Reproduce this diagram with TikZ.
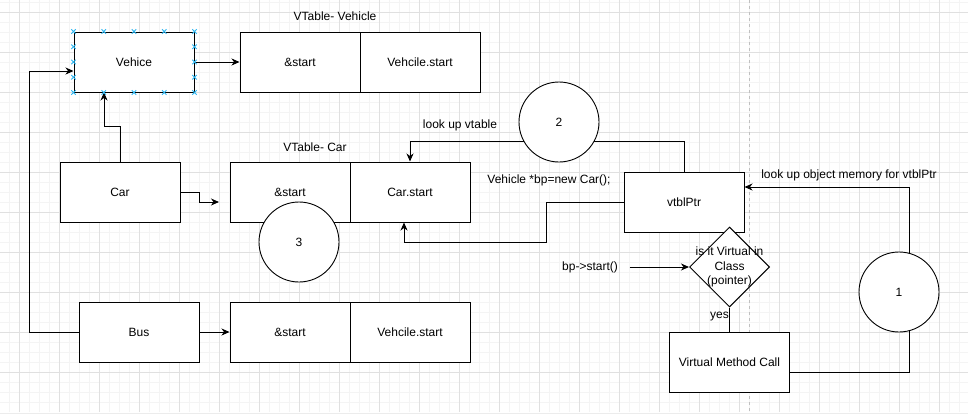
\documentclass[tikz,border=0pt]{standalone}
\usepackage{fontspec}
\setmainfont{Liberation Sans}
\usetikzlibrary{shapes.geometric,arrows.meta,calc}
\pgfdeclarelayer{gridlayer}
\pgfdeclarelayer{lines}
\pgfsetlayers{gridlayer,lines,main}
\definecolor{minorgrid}{RGB}{244,244,244}
\definecolor{majorgrid}{RGB}{224,224,224}
\definecolor{handleblue}{RGB}{41,182,242}
\definecolor{pageline}{RGB}{192,192,192}
\tikzset{
  txt/.style={font=\fontsize{12}{14.5}\selectfont, inner sep=0pt, align=center},
  boxnode/.style={draw, line width=1pt, fill=white, minimum width=120pt, minimum height=60pt, inner sep=0pt, txt},
  circnode/.style={draw, circle, line width=0.9pt, fill=white, minimum size=80pt, inner sep=0pt, txt},
  decision/.style={draw, diamond, line width=1pt, fill=white, minimum width=80pt, minimum height=80pt, inner sep=0pt},
  conn/.style={line width=1pt, line join=miter},
  arr/.style={conn, -{Stealth[length=8pt,width=7pt,inset=2.5pt]}},
  handle/.style={draw=handleblue, line width=0.9pt}
}
\begin{document}
\begin{tikzpicture}[x=1pt,y=-1pt]
\useasboundingbox (0,0) rectangle (968,416);
% grid background
\begin{pgfonlayer}{gridlayer}
\fill[white] (0,0) rectangle (968,416);
\foreach \gx in {9.5,19.5,...,959.5} \draw[minorgrid, line width=0.8pt] (\gx,0) -- (\gx,412);
\foreach \gy in {2.7,12.7,...,402.7} \draw[minorgrid, line width=0.8pt] (0,\gy) -- (968,\gy);
\foreach \gx in {19.5,59.5,...,939.5} \draw[majorgrid, line width=0.9pt] (\gx,0) -- (\gx,412);
\foreach \gy in {12.7,52.7,...,372.7} \draw[majorgrid, line width=0.9pt] (0,\gy) -- (968,\gy);
\fill[gray!15] (0,412.5) rectangle (968,414);
\draw[pageline, line width=0.9pt, dash pattern=on 3pt off 3pt] (749.3,0) -- (749.3,412);
\end{pgfonlayer}

% nodes
\node[boxnode] (vehice) at (134,62) {Vehice};
\node[boxnode] (vtv1) at (300,62) {\&start};
\node[boxnode] (vtv2) at (420,62) {Vehcile.start};
\node[txt] (labvtv) at (335,16) {VTable- Vehicle};

\node[boxnode] (car) at (120,192) {Car};
\node[boxnode] (vtc1) at (290,192) {\&start};
\node[boxnode] (vtc2) at (410,192) {Car.start};
\node[txt] (labvtc) at (315,147) {VTable- Car};
\node[circnode] (circ3) at (299,242) {3};

\node[boxnode] (bus) at (139,332) {Bus};
\node[boxnode] (vtb1) at (290,332) {\&start};
\node[boxnode] (vtb2) at (410,332) {Vehcile.start};

\node[circnode] (circ2) at (559,122) {2};
\node[txt] (lookvt) at (460,125) {look up vtable};
\node[txt] (newcar) at (549,180) {Vehicle *bp=new Car();};
\node[boxnode] (vptr) at (684,202) {vtblPtr};

\node[decision] (dia) at (729.5,267) {};
\node[txt] (diatext) at (729.5,267.2) {is it Virtual in\\Class\\(pointer)};
\node[txt] (bpstart) at (590,267) {bp->start()};
\coordinate (bpfrom) at (629.5,267);
\node[txt] (yes) at (719.5,317) {yes};
\node[boxnode] (vmc) at (729.5,362) {Virtual Method Call};

\node[circnode] (circ1) at (899,292) {1};
\node[txt] (lookobj) at (849,175) {look up object memory for vtblPtr};

\coordinate (cararr) at (219,202);

% connectors
\begin{pgfonlayer}{lines}
\draw[arr] (vehice.east) -- (vtv1.west);
\draw[arr] (car.north) -- ++(0,-35) -| ([xshift=-30pt]vehice.south);
\draw[arr] (car.east) -- ++(19,0) |- (cararr);
\draw[arr] (bus.east) -- (vtb1.west);
\draw[arr] (bus.west) -- ++(-49,0) |- ([yshift=-9pt]vehice.west);
\draw[arr] (vptr.north) -- ++(0,-30) -| (vtc2.north);
\draw[arr] (vptr.west) -- ++(-77,0) -- ++(0,40) -| ([xshift=-6pt]vtc2.south);
\draw[arr] (bpfrom) -- (dia.west);
\draw[conn] (dia.south) -- (vmc.north);
\draw[arr] ([yshift=-10pt]vmc.east) -- ++(119.5,0) |- ([yshift=15pt]vptr.east);
\end{pgfonlayer}

% selection handles on Vehice
\foreach \f in {0,0.25,0.5,0.75,1} {
  \foreach \pa/\pb in {north west/north east, south west/south east} {
    \path ($(vehice.\pa)!\f!(vehice.\pb)$) coordinate (hp);
    \draw[handle] ($(hp)+(-2.2,-2.2)$) -- ($(hp)+(2.2,2.2)$) ($(hp)+(-2.2,2.2)$) -- ($(hp)+(2.2,-2.2)$);
  }
}
\foreach \f in {0.25,0.5,0.75} {
  \foreach \pa/\pb in {north west/south west, north east/south east} {
    \path ($(vehice.\pa)!\f!(vehice.\pb)$) coordinate (hp);
    \draw[handle] ($(hp)+(-2.2,-2.2)$) -- ($(hp)+(2.2,2.2)$) ($(hp)+(-2.2,2.2)$) -- ($(hp)+(2.2,-2.2)$);
  }
}
\end{tikzpicture}
\end{document}
